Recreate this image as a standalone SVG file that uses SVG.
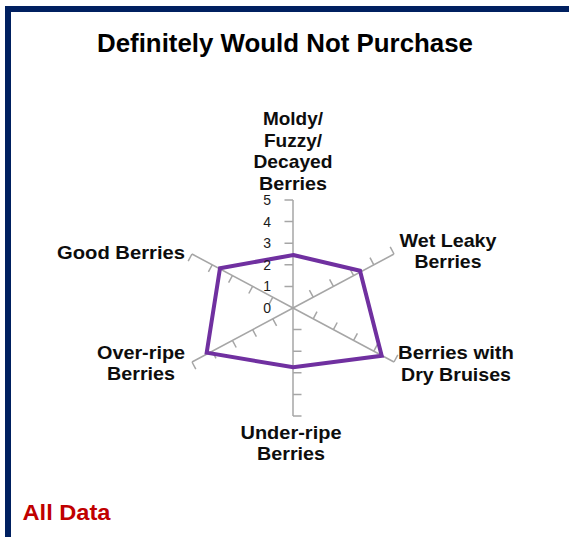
<svg xmlns="http://www.w3.org/2000/svg" width="569" height="537" viewBox="0 0 569 537">
<style>
.frame{fill:#002060}
.axis{stroke:#A6A6A6;stroke-width:1.5;fill:none}
.series{stroke:#7030A0;stroke-width:4;fill:none;stroke-linejoin:miter}
.title{font-family:"Liberation Sans",Arial,sans-serif;font-weight:bold;font-size:25px;fill:#000}
.lbl{font-family:"Liberation Sans",Arial,sans-serif;font-weight:bold;font-size:19px;fill:#0d0d0d}
.tick{font-family:"Liberation Sans",Arial,sans-serif;font-size:14px;fill:#1a1a1a;text-anchor:end}
.note{font-family:"Liberation Sans",Arial,sans-serif;font-weight:bold;font-size:22.5px;fill:#C00000}
</style>
<rect width="569" height="537" fill="#fff"/>
<g id="frame">
<rect class="frame" x="5" y="6" width="564" height="6"/>
<rect class="frame" x="5" y="6" width="6" height="531"/>
</g>
<text id="title" class="title" x="285" y="52" text-anchor="middle" textLength="376" lengthAdjust="spacingAndGlyphs">Definitely Would Not Purchase</text>
<g id="connectors">
<g id="axes" class="axis">
<path d="M293,308 L293,200 M284.5,200 H293 M284.5,221.6 H293 M284.5,243.2 H293 M284.5,264.8 H293 M284.5,286.4 H293"/>
<path d="M293,308 L394,254 M313.2,297.2 L309.4,290.1 M333.4,286.4 L329.6,279.3 M353.6,275.6 L349.8,268.5 M373.8,264.8 L370,257.7 M394,254 L390.2,246.9"/>
<path d="M293,308 L394,362 M313.2,318.8 L317,311.7 M333.4,329.6 L337.2,322.5 M353.6,340.4 L357.4,333.3 M373.8,351.2 L377.6,344.1 M394,362 L397.8,354.9"/>
<path d="M293,308 L293,416 M293,329.6 H301.5 M293,351.2 H301.5 M293,372.8 H301.5 M293,394.4 H301.5 M293,416 H301.5"/>
<path d="M293,308 L192,362 M272.8,318.8 L276.6,325.9 M252.6,329.6 L256.4,336.7 M232.4,340.4 L236.2,347.5 M212.2,351.2 L216,358.3 M192,362 L195.8,369.1"/>
<path d="M293,308 L192,254 M272.8,297.2 L269,304.3 M252.6,286.4 L248.8,293.5 M232.4,275.6 L228.6,282.7 M212.2,264.8 L208.4,271.9 M192,254 L188.2,261.1"/>
</g>
<polygon id="series" class="series" points="293.3,255 360,270.7 381.7,355.7 293.3,367.3 206.7,352.7 220,268.3"/>
</g>
<g id="scale">
<text class="tick" x="271" y="313">0</text>
<text class="tick" x="271" y="291.4">1</text>
<text class="tick" x="271" y="269.8">2</text>
<text class="tick" x="271" y="248.2">3</text>
<text class="tick" x="271" y="226.6">4</text>
<text class="tick" x="271" y="205">5</text>
</g>
<g id="node-moldy">
<text class="lbl" text-anchor="middle" x="293" y="125" textLength="60" lengthAdjust="spacingAndGlyphs">Moldy/</text>
<text class="lbl" text-anchor="middle" x="293" y="146.5">Fuzzy/</text>
<text class="lbl" text-anchor="middle" x="293" y="168" textLength="79" lengthAdjust="spacingAndGlyphs">Decayed</text>
<text class="lbl" text-anchor="middle" x="293" y="189.5" textLength="68" lengthAdjust="spacingAndGlyphs">Berries</text>
</g>
<g id="node-wet">
<text class="lbl" text-anchor="middle" x="448" y="246.5" textLength="97" lengthAdjust="spacingAndGlyphs">Wet Leaky</text>
<text class="lbl" text-anchor="middle" x="448" y="268" textLength="67" lengthAdjust="spacingAndGlyphs">Berries</text>
</g>
<g id="node-dry">
<text class="lbl" text-anchor="middle" x="456" y="359" textLength="116" lengthAdjust="spacingAndGlyphs">Berries with</text>
<text class="lbl" text-anchor="middle" x="456" y="380.5" textLength="110" lengthAdjust="spacingAndGlyphs">Dry Bruises</text>
</g>
<g id="node-under">
<text class="lbl" text-anchor="middle" x="291" y="438.5" textLength="101" lengthAdjust="spacingAndGlyphs">Under-ripe</text>
<text class="lbl" text-anchor="middle" x="291" y="459.5" textLength="68" lengthAdjust="spacingAndGlyphs">Berries</text>
</g>
<g id="node-over">
<text class="lbl" text-anchor="middle" x="141" y="358.5" textLength="88" lengthAdjust="spacingAndGlyphs">Over-ripe</text>
<text class="lbl" text-anchor="middle" x="141" y="380" textLength="68" lengthAdjust="spacingAndGlyphs">Berries</text>
</g>
<g id="node-good">
<text class="lbl" text-anchor="end" x="185" y="258.5" textLength="128" lengthAdjust="spacingAndGlyphs">Good Berries</text>
</g>
<text id="note" class="note" x="22.5" y="519.5" textLength="88" lengthAdjust="spacingAndGlyphs">All Data</text>
</svg>
